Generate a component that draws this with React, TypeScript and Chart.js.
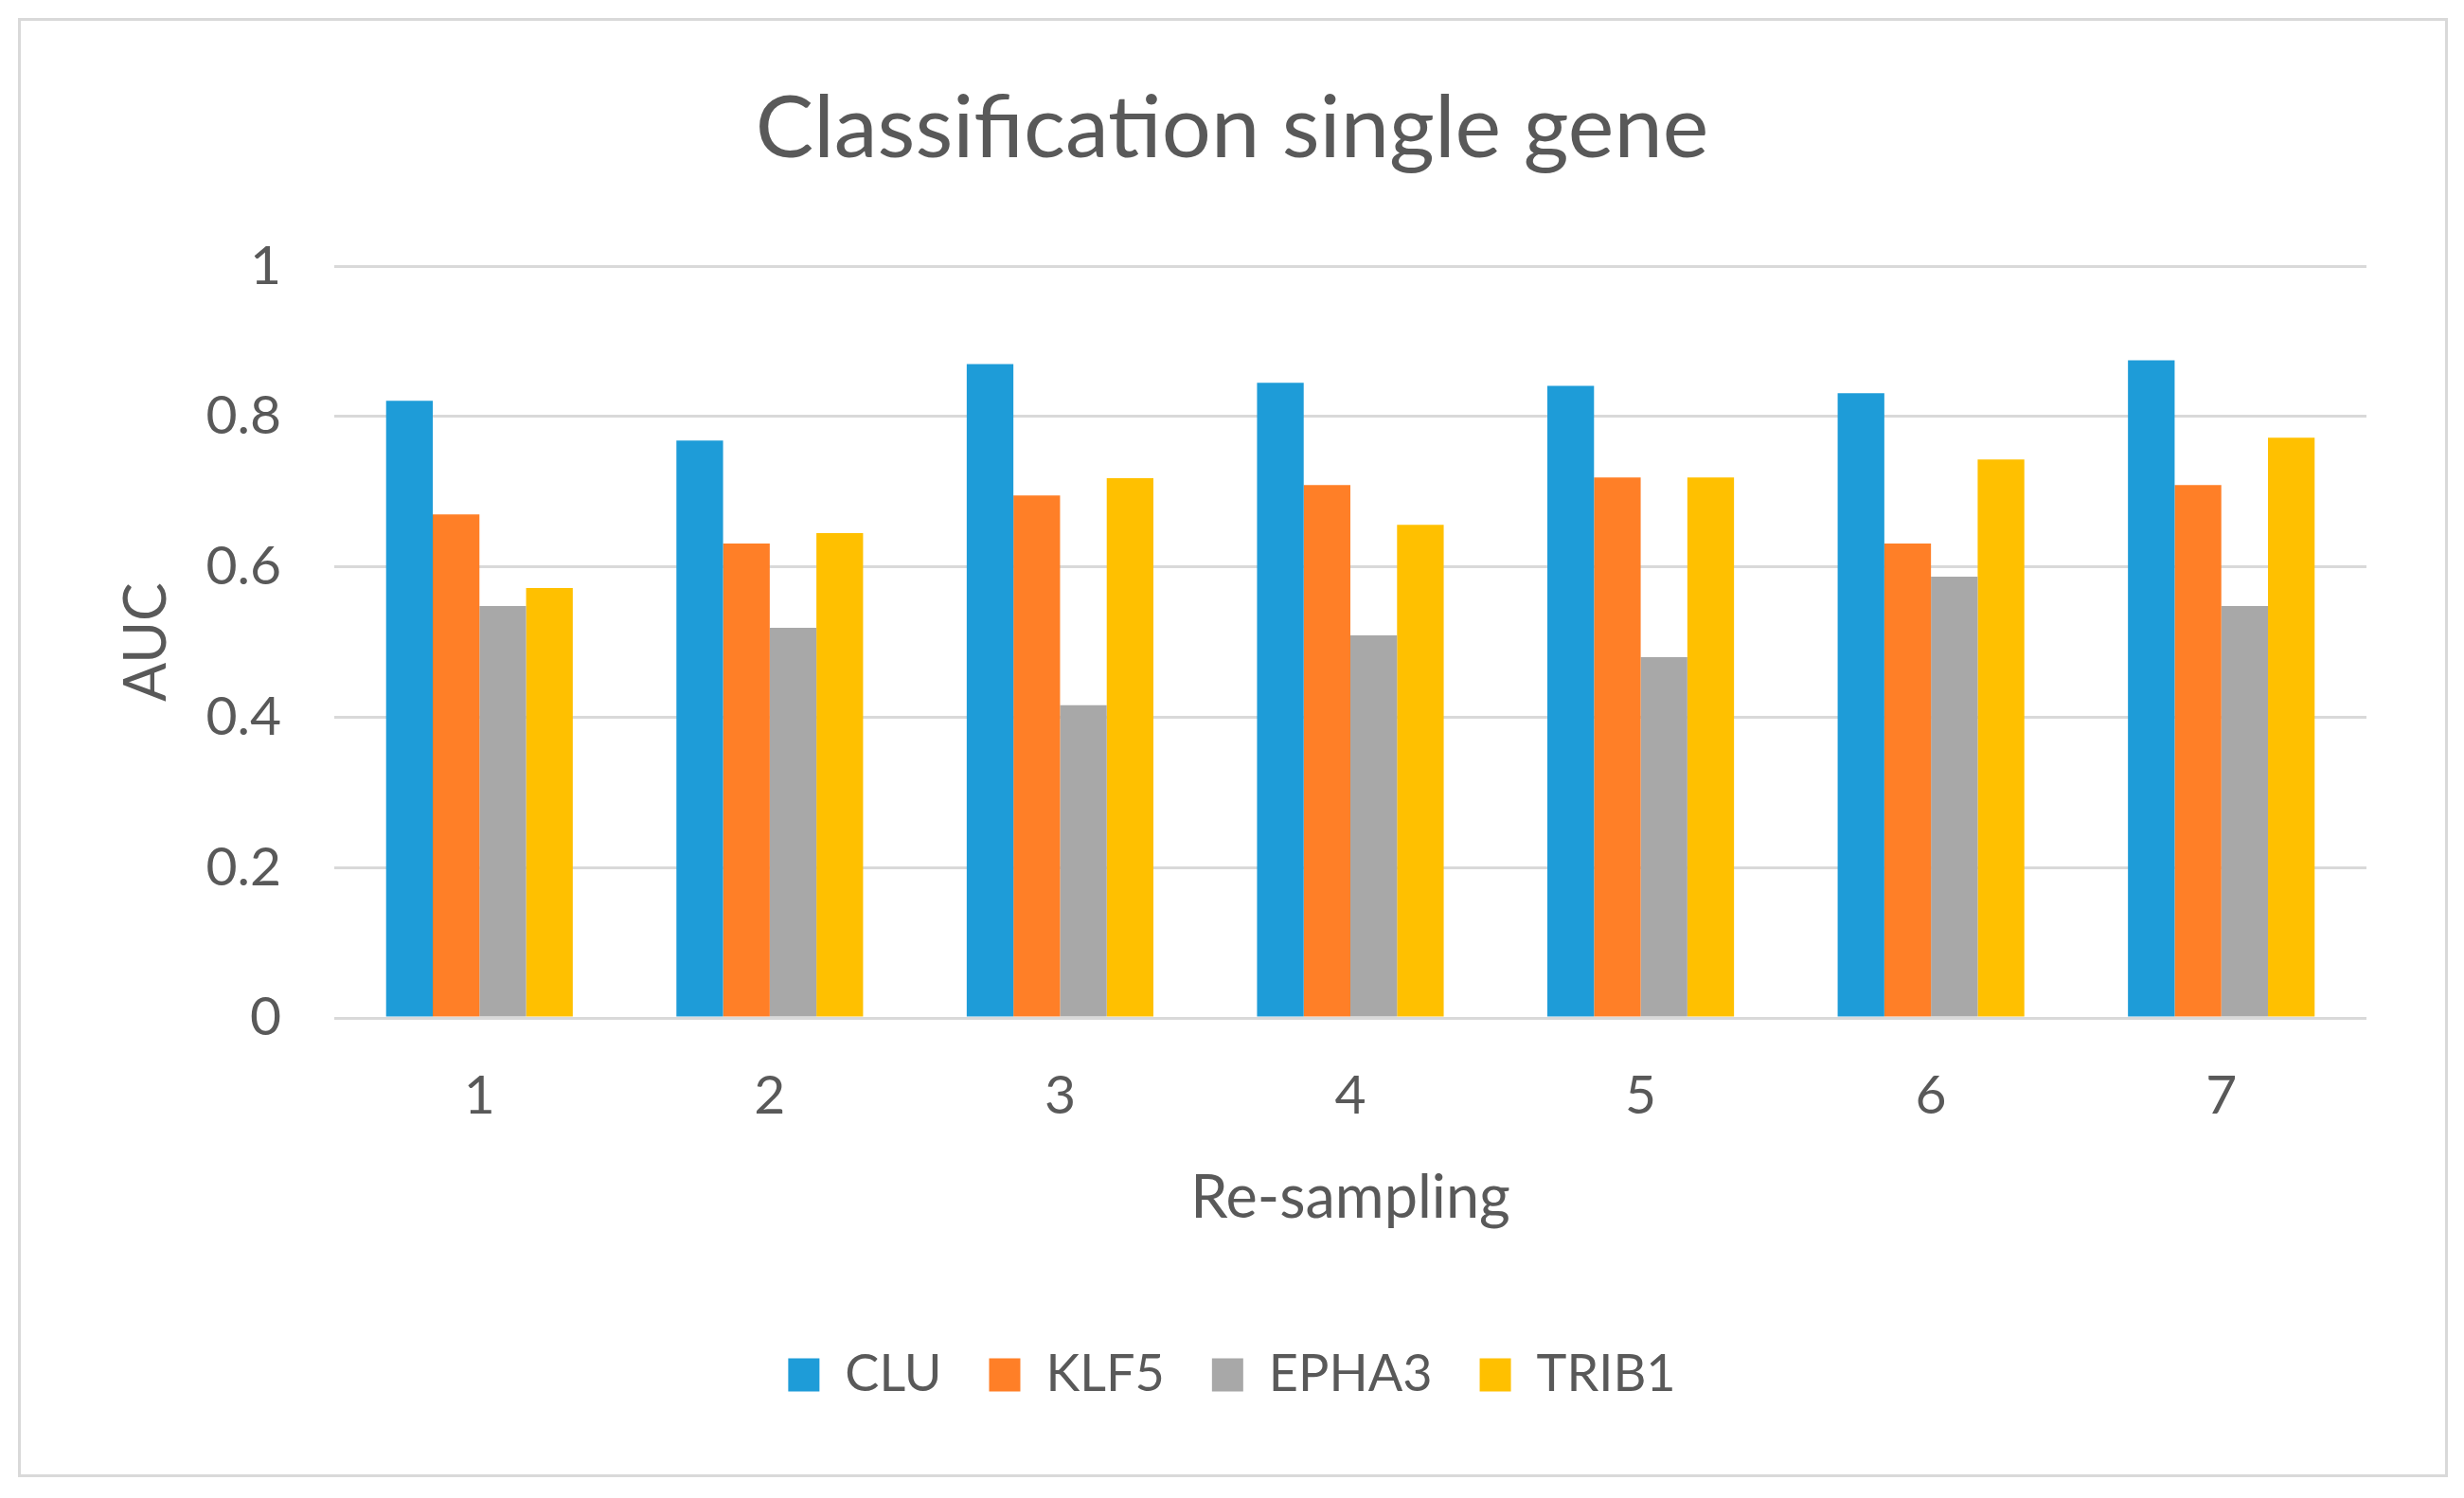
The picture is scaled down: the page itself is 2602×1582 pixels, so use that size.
import React, { useEffect, useRef } from "react";
import { Chart, registerables } from "chart.js";

Chart.register(...registerables);

const categories = ["1", "2", "3", "4", "5", "6", "7"];
const seriesNames = ["CLU", "KLF5", "EPHA3", "TRIB1"];
const cluValues = [0.821, 0.768, 0.870, 0.845, 0.841, 0.831, 0.875];
const klf5Values = [0.670, 0.631, 0.695, 0.709, 0.719, 0.631, 0.709];
const epha3Values = [0.548, 0.519, 0.416, 0.509, 0.480, 0.587, 0.548];
const trib1Values = [0.572, 0.645, 0.718, 0.656, 0.719, 0.743, 0.772];
const seriesColors = ["#1E9CD8", "#FF7F27", "#A8A8A8", "#FFC000"];

const TEXT = "#595959";
const GRID = "#D9D9D9";
const FONT = "Lato";

export default function App() {
  const ref = useRef<HTMLCanvasElement>(null);

  useEffect(() => {
    let chart: Chart | null = null;
    let cancelled = false;
    const make = () => {
      if (cancelled || !ref.current) return;
      const values = [cluValues, klf5Values, epha3Values, trib1Values];
      chart = new Chart(ref.current, {
        type: "bar",
        data: {
          labels: categories,
          datasets: seriesNames.map((name, i) => ({
            label: name,
            data: values[i],
            backgroundColor: seriesColors[i],
            borderWidth: 0,
            categoryPercentage: 0.643,
            barPercentage: 1,
          })),
        },
        options: {
          animation: false,
          responsive: false,
          devicePixelRatio: 1,
          layout: { padding: { left: 0, right: 0, top: 0, bottom: 93 } },
          plugins: {
            title: {
              display: true,
              text: "Classification single gene",
              color: TEXT,
              font: { family: FONT, size: 92, weight: "normal" },
              padding: { top: 81, bottom: 89.8 },
            },
            legend: {
              display: true,
              position: "bottom",
              labels: {
                color: TEXT,
                font: { family: FONT, size: 54 },
                boxWidth: 33,
                boxHeight: 35,
                padding: 50,
              },
            },
            tooltip: { enabled: false },
          },
          scales: {
            x: {
              grid: { display: false, drawTicks: false },
              border: { display: false },
              ticks: {
                color: TEXT,
                font: { family: FONT, size: 57 },
                padding: 48,
              },
              title: {
                display: true,
                text: "Re-sampling",
                color: TEXT,
                font: { family: FONT, size: 63 },
                padding: { top: 0, bottom: 72 },
              },
              afterFit: (s: any) => {
                s.height = 300;
              },
            },
            y: {
              min: 0,
              max: 1,
              ticks: {
                stepSize: 0.2,
                color: TEXT,
                font: { family: FONT, size: 57 },
                padding: 56,
                callback: (v: any) => String(+Number(v).toFixed(2)),
              },
              grid: { color: GRID, lineWidth: 3, drawTicks: false },
              border: { display: false },
              title: {
                display: true,
                text: "AUC",
                color: TEXT,
                font: { family: FONT, size: 61 },
                padding: { top: 119, bottom: 20 },
              },
              afterFit: (s: any) => {
                s.width = 353;
              },
            },
            yRight: {
              type: "linear",
              position: "right",
              display: true,
              grid: { display: false, drawTicks: false },
              border: { display: false },
              ticks: { display: false },
              afterFit: (s: any) => {
                s.width = 103;
              },
            },
          },
        },
      });
    };
    const fontsReady = (document as any).fonts
      ? Promise.all([
          (document as any).fonts.load(`57px ${FONT}`),
          (document as any).fonts.load(`92px ${FONT}`),
        ]).catch(() => null)
      : Promise.resolve(null);
    fontsReady.then(make);
    return () => {
      cancelled = true;
      if (chart) chart.destroy();
    };
  }, []);

  return (
    <div
      style={{
        position: "fixed",
        left: 0,
        top: 0,
        width: 2602,
        height: 1582,
        background: "#ffffff",
        overflow: "hidden",
      }}
    >
      <canvas
        ref={ref}
        width={2602}
        height={1582}
        style={{ position: "absolute", left: 0, top: 0, width: 2602, height: 1582 }}
      />
      <div
        style={{
          position: "absolute",
          left: 19,
          top: 19,
          width: 2566,
          height: 1541,
          boxSizing: "border-box",
          border: `3px solid ${GRID}`,
          pointerEvents: "none",
        }}
      />
    </div>
  );
}
